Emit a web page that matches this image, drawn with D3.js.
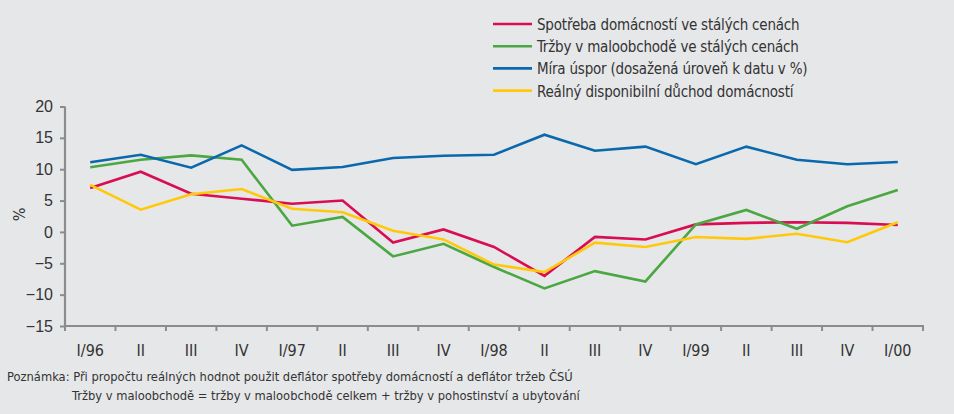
<!DOCTYPE html>
<html>
<head>
<meta charset="utf-8">
<script src="https://cdn.jsdelivr.net/npm/d3@7"></script>
<style>
  body { margin: 0; background: #e6e7e9; }
  svg { display: block; font-family: "Liberation Sans Narrow", "DejaVu Sans Condensed", "Liberation Sans", sans-serif; }
</style>
</head>
<body>
<div id="chart"></div>
<script>
// quarters 1996 - 2000
const categories = ['I/96', 'II', 'III', 'IV', 'I/97', 'II', 'III', 'IV', 'I/98', 'II', 'III', 'IV', 'I/99', 'II', 'III', 'IV', 'I/00'];

const spotreba = [7.0, 9.6, 6.1, 5.3, 4.5, 5.0, -1.7, 0.4, -2.4, -7.0, -0.8, -1.2, 1.2, 1.45, 1.55, 1.45, 1.1];
const trzby = [10.3, 11.5, 12.2, 11.5, 1.0, 2.4, -3.9, -1.9, -5.6, -9.0, -6.25, -7.9, 1.2, 3.5, 0.5, 4.1, 6.7];
const miraUspor = [11.1, 12.3, 10.25, 13.8, 9.9, 10.35, 11.8, 12.15, 12.3, 15.5, 12.95, 13.6, 10.8, 13.6, 11.5, 10.8, 11.15];
const duchod = [7.5, 3.55, 6.0, 6.85, 3.7, 3.15, 0.2, -1.2, -5.2, -6.4, -1.7, -2.4, -0.8, -1.1, -0.3, -1.65, 1.55];

const seriesNames = [
  'Spotřeba domácností ve stálých cenách',
  'Tržby v maloobchodě ve stálých cenách',
  'Míra úspor (dosažená úroveň k datu v %)',
  'Reálný disponibilní důchod domácností'
];
const seriesColours = ['#d90d52', '#4ba742', '#0a68ad', '#ffc90a'];
const yTicks = [20, 15, 10, 5, 0, -5, -10, -15];

const series = [spotreba, trzby, miraUspor, duchod].map((values, i) => ({
  name: seriesNames[i], colour: seriesColours[i], values
}));

const width = 954, height = 414;
const svg = d3.select('#chart').append('svg')
  .attr('width', width)
  .attr('height', height);

const x = d3.scaleBand().domain(d3.range(categories.length)).range([65, 923]);
const y = d3.scaleLinear().domain([-15, 20]).range([326, 106.5]);

const axisColour = '#8c8c8c';
const textColour = '#333';

// y axis
const yAxis = svg.append('g')
  .attr('transform', 'translate(65,0)')
  .call(d3.axisLeft(y).tickValues(yTicks).tickSize(5).tickPadding(7).tickFormat(d3.format('d')));
yAxis.select('.domain').attr('stroke', axisColour).attr('stroke-width', 2.2)
  .attr('d', `M0,${y(20)}V${y(-15)}`);
yAxis.selectAll('.tick line').attr('stroke', axisColour).attr('stroke-width', 2);
yAxis.selectAll('.tick text').attr('fill', textColour).style('font-size', '16px');

// x axis, ticks at the band edges
const xAxis = svg.append('g').attr('transform', `translate(0,${y(-15)})`);
xAxis.append('line')
  .attr('x1', 64).attr('x2', 924)
  .attr('stroke', axisColour).attr('stroke-width', 2.2);
xAxis.selectAll('.edge')
  .data(d3.range(categories.length + 1))
  .enter().append('line')
  .attr('class', 'edge')
  .attr('x1', (d) => 65 + d * x.step())
  .attr('x2', (d) => 65 + d * x.step())
  .attr('y1', 0).attr('y2', 5)
  .attr('stroke', axisColour).attr('stroke-width', 2);
xAxis.selectAll('text')
  .data(categories)
  .enter().append('text')
  .attr('x', (d, i) => x(i) + x.bandwidth() / 2)
  .attr('y', 30)
  .attr('text-anchor', 'middle')
  .attr('fill', textColour)
  .style('font-size', '16px')
  .text((d) => d);

// y title
svg.append('text')
  .attr('transform', `translate(25,${y(2.8)}) rotate(-90)`)
  .attr('text-anchor', 'middle')
  .attr('fill', textColour)
  .style('font-size', '16px')
  .text('%');

// lines
const line = d3.line()
  .x((d, i) => x(i) + x.bandwidth() / 2)
  .y((d) => y(d));

svg.selectAll('.series')
  .data(series)
  .enter().append('path')
  .attr('class', 'series')
  .attr('fill', 'none')
  .attr('stroke', (d) => d.colour)
  .attr('stroke-width', 2.6)
  .attr('stroke-linejoin', 'miter')
  .attr('d', (d) => line(d.values));

// legend
const legend = svg.append('g').attr('transform', 'translate(493,24)');
const rows = legend.selectAll('g')
  .data(series)
  .enter().append('g')
  .attr('transform', (d, i) => `translate(0,${i * 22.2})`);
rows.append('line')
  .attr('x1', 0).attr('x2', 39)
  .attr('stroke', (d) => d.colour)
  .attr('stroke-width', 2.6);
rows.append('text')
  .attr('x', 44)
  .attr('y', 6)
  .attr('fill', textColour)
  .style('font-size', '15px')
  .style('letter-spacing', '-0.2px')
  .text((d) => d.name);

// note
const note = svg.append('g').style('font-size', '12.8px').attr('fill', textColour);
note.append('text').attr('x', 7).attr('y', 381)
  .text('Poznámka: Při propočtu reálných hodnot použit deflátor spotřeby domácností a deflátor tržeb ČSÚ');
note.append('text').attr('x', 72).attr('y', 400)
  .text('Tržby v maloobchodě = tržby v maloobchodě celkem + tržby v pohostinství a ubytování');
</script>
</body>
</html>
